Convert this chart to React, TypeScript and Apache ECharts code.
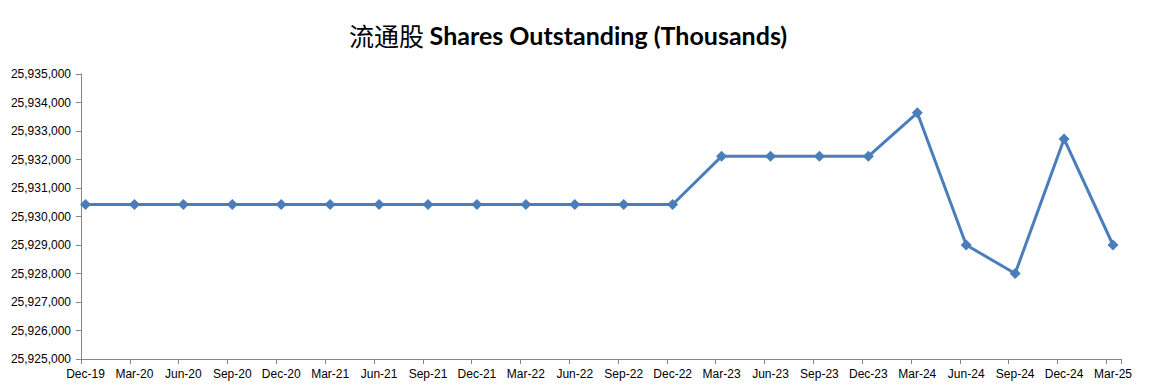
import React, { useEffect, useRef } from "react";
import * as echarts from "echarts";

const categories = [
  "Dec-19", "Mar-20", "Jun-20", "Sep-20", "Dec-20", "Mar-21", "Jun-21", "Sep-21",
  "Dec-21", "Mar-22", "Jun-22", "Sep-22", "Dec-22", "Mar-23", "Jun-23", "Sep-23",
  "Dec-23", "Mar-24", "Jun-24", "Sep-24", "Dec-24", "Mar-25",
];
const shares = [
  25930420, 25930420, 25930420, 25930420, 25930420, 25930420, 25930420, 25930420,
  25930420, 25930420, 25930420, 25930420, 25930420, 25932110, 25932110, 25932110,
  25932110, 25933640, 25929000, 25928000, 25932720, 25929000,
];
const yMin = 25925000;
const yMax = 25935000;
const yStep = 1000;

const BLUE = "#4a7ebb";
const AXIS = "#868686";
const FONT = "'Liberation Sans', Arial, sans-serif";

export default function App() {
  const ref = useRef<HTMLDivElement>(null);
  useEffect(() => {
    if (!ref.current) return;
    const chart = echarts.init(ref.current, undefined, { renderer: "svg" });
    chart.setOption({
      animation: false,
      backgroundColor: "#ffffff",
      title: {
        left: 344,
        top: 17,
        text: "{cn|流通股 }{en|Shares Outstanding (Thousands)}",
        textStyle: {
          rich: {
            cn: { fontFamily: "'Noto Sans CJK SC', sans-serif", fontSize: 25, color: "#000", fontWeight: "normal" },
            en: { fontFamily: "Lato, 'Open Sans', sans-serif", fontSize: 25, color: "#000", fontWeight: "bold" },
          },
        },
      },
      grid: [
        { left: 85.5, right: 42, top: 74, bottom: 30, containLabel: false },
        { left: 81, right: 34, top: 74, bottom: 30, containLabel: false },
      ],
      xAxis: [
        {
          type: "category",
          gridIndex: 0,
          data: categories,
          boundaryGap: false,
          axisLine: { show: false },
          axisTick: { show: false },
          axisLabel: { color: "#000", fontSize: 12, fontFamily: FONT, margin: 9, interval: 0 },
          splitLine: { show: false },
        },
        {
          type: "value",
          gridIndex: 1,
          min: 0,
          max: 21.3,
          interval: 1,
          axisLine: { show: true, lineStyle: { color: AXIS, width: 1 } },
          axisTick: { show: true, length: 5, lineStyle: { color: AXIS } },
          axisLabel: { show: false },
          splitLine: { show: false },
        },
      ],
      yAxis: [
        {
          type: "value",
          gridIndex: 0,
          min: yMin,
          max: yMax,
          interval: yStep,
          show: false,
        },
        {
          type: "value",
          gridIndex: 1,
          min: yMin,
          max: yMax,
          interval: yStep,
          axisLine: { show: true, lineStyle: { color: AXIS, width: 1 } },
          axisTick: { show: true, length: 5, lineStyle: { color: AXIS } },
          axisLabel: {
            color: "#000",
            fontSize: 12,
            fontFamily: FONT,
            margin: 10,
            formatter: (v: number) => v.toLocaleString("en-US"),
          },
          splitLine: { show: false },
        },
      ],
      series: [
        {
          type: "line",
          xAxisIndex: 0,
          yAxisIndex: 0,
          data: shares,
          symbol: "diamond",
          symbolSize: 11,
          lineStyle: { color: BLUE, width: 3 },
          itemStyle: { color: BLUE },
        },
      ],
    });
    return () => chart.dispose();
  }, []);
  return <div ref={ref} style={{ width: 1155, height: 389, margin: -8 }} />;
}
